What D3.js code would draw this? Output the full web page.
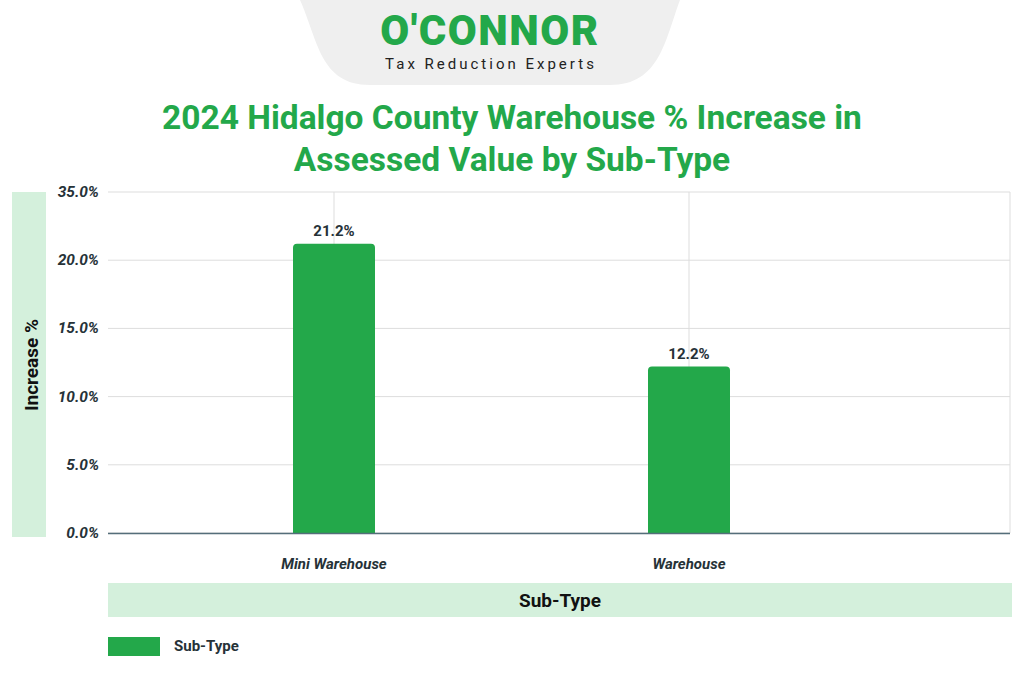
<!DOCTYPE html><html><head><meta charset="utf-8"><script src="https://cdn.jsdelivr.net/npm/d3@7"></script>
<style>body{margin:0;background:#fff}text{font-family:Roboto,sans-serif}</style></head><body><svg width="1024" height="675"></svg>
<script>
const categories=["Mini Warehouse","Warehouse"];
const values=[21.2,12.2];
const valueLabels=["21.2%","12.2%"];
const tickValues=[0,5,10,15,20,25];
const tickLabels=["0.0%","5.0%","10.0%","15.0%","20.0%","35.0%"];
const svg=d3.select("svg");
const green="#23a84a",light="#d4f0dc",dark="#263238";
svg.append("path").attr("d","M300,0 L680,0 C665,40 660,85 610,85 L370,85 C320,85 318,40 300,0 Z").attr("fill","#efefef");
svg.append("text").attr("x",490).attr("y",45).attr("text-anchor","middle").attr("font-size",42).attr("font-weight",900).attr("letter-spacing",1.5).attr("fill",green).text("O'CONNOR");
svg.append("text").attr("x",491).attr("y",69).attr("text-anchor","middle").attr("font-size",15).attr("letter-spacing",3).attr("fill","#222").text("Tax Reduction Experts");
svg.append("text").attr("x",512).attr("y",129).attr("text-anchor","middle").attr("font-size",33.5).attr("font-weight",700).attr("fill",green).text("2024 Hidalgo County Warehouse % Increase in");
svg.append("text").attr("x",512).attr("y",171).attr("text-anchor","middle").attr("font-size",33.5).attr("font-weight",700).attr("fill",green).text("Assessed Value by Sub-Type");
const y=d3.scaleLinear().domain([0,25]).range([533,192]);
const x=d3.scaleBand().domain(categories).range([156.5,866.5]);
svg.append("rect").attr("x",12).attr("y",192).attr("width",34).attr("height",345).attr("fill",light);
svg.append("text").attr("transform","translate(38,365) rotate(-90)").attr("text-anchor","middle").attr("font-size",19).attr("font-weight",700).attr("fill","#111").text("Increase %");
svg.append("g").selectAll("line").data(tickValues).join("line").attr("x1",108).attr("x2",1010).attr("y1",d=>y(d)).attr("y2",d=>y(d)).attr("stroke","#ddd");
svg.append("g").selectAll("line").data(categories).join("line").attr("x1",d=>x(d)+x.bandwidth()/2).attr("x2",d=>x(d)+x.bandwidth()/2).attr("y1",192).attr("y2",533).attr("stroke","#ddd");
svg.append("line").attr("x1",1010).attr("x2",1010).attr("y1",192).attr("y2",533).attr("stroke","#ddd");
svg.append("g").selectAll("text").data(tickValues).join("text").attr("x",99).attr("y",d=>y(d)+5).attr("text-anchor","end").attr("font-size",15.5).attr("font-style","italic").attr("font-weight",700).attr("fill",dark).text((d,i)=>tickLabels[i]);
const bw=82;
svg.append("g").selectAll("path").data(values).join("path").attr("fill",green).attr("d",(d,i)=>{const cx=x(categories[i])+x.bandwidth()/2,x0=cx-bw/2,t=y(d),b=y(0),r=4;return `M${x0},${b}V${t+r}Q${x0},${t} ${x0+r},${t}H${x0+bw-r}Q${x0+bw},${t} ${x0+bw},${t+r}V${b}Z`;});
svg.append("g").selectAll("text").data(values).join("text").attr("x",(d,i)=>x(categories[i])+x.bandwidth()/2).attr("y",d=>y(d)-8).attr("text-anchor","middle").attr("font-size",15).attr("font-weight",700).attr("fill",dark).text((d,i)=>valueLabels[i]);
svg.append("line").attr("x1",108).attr("x2",1010).attr("y1",533.5).attr("y2",533.5).attr("stroke","#546e7a").attr("stroke-width",1.5);
svg.append("g").selectAll("text").data(categories).join("text").attr("x",d=>x(d)+x.bandwidth()/2).attr("y",569).attr("text-anchor","middle").attr("font-size",15).attr("font-style","italic").attr("font-weight",700).attr("fill",dark).text(d=>d);
svg.append("rect").attr("x",108).attr("y",583).attr("width",904).attr("height",34).attr("fill",light);
svg.append("text").attr("x",560).attr("y",607).attr("text-anchor","middle").attr("font-size",19).attr("font-weight",700).attr("fill","#111").text("Sub-Type");
svg.append("rect").attr("x",108).attr("y",637).attr("width",52).attr("height",19).attr("fill",green);
svg.append("text").attr("x",174).attr("y",651).attr("font-size",15).attr("font-weight",700).attr("fill",dark).text("Sub-Type");
</script></body></html>
